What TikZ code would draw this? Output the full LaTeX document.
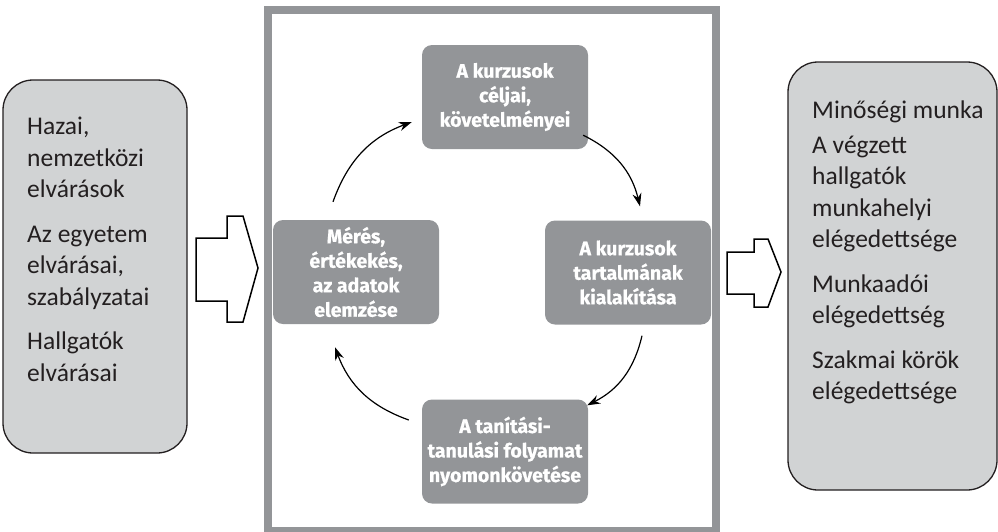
\documentclass[tikz,border=0pt]{standalone}
\usepackage{fontspec}
\setmainfont{Fira Sans}
\newfontfamily\sidefont{Carlito}
\newfontfamily\stepfont{Fira Sans}[BoldFeatures={FakeBold=0.7}]
\usetikzlibrary{arrows.meta,calc}
\definecolor{framegray}{HTML}{939598}
\definecolor{boxgray}{HTML}{D1D3D4}
\definecolor{inkblack}{HTML}{231F20}

\begin{document}
\begin{tikzpicture}[x=1pt,y=1pt,
    sidebox/.style={draw=inkblack,line width=1.3pt,fill=boxgray,rounded corners=30pt,inner sep=0pt},
    sidetext/.style={anchor=north west,align=left,inner sep=0pt,text=inkblack,font=\sidefont\fontsize{25.5}{31.5}\selectfont},
    stepbox/.style={fill=framegray,rounded corners=10pt,minimum width=166pt,minimum height=104pt,inner sep=0pt,align=center,text=white,font=\stepfont\bfseries\fontsize{19.5}{24.5}\selectfont},
    cyc/.style={line width=1.2pt,-{Stealth[length=13pt,width=9pt]}},
    blockarrow/.style={draw=black,line width=1.5pt,fill=white,line join=miter}]
          \useasboundingbox (0,0) rectangle (998,-531);
          \clip (0,0) rectangle (998,-531);
          % frame round the cycle
          \draw[framegray,line width=8pt] (267.5,-10) rectangle (715.5,-531);
          % side boxes
          \node[sidebox,minimum width=184pt,minimum height=373pt] (inbox) at (95,-266.5) {};
          \node[sidebox,minimum width=209pt,minimum height=428pt] (outbox) at (892.5,-276) {};
          \node[sidetext] (intext) at (27,-117) {Hazai,\\nemzetközi\\elvárások\\[13pt]Az egyetem\\elvárásai,\\szabályzatai\\[13pt]Hallgatók\\elvárásai};
          \node[sidetext] (outtext) at (812,-101) {Minőségi munka\\[3pt]A végzett\\hallgatók\\munkahelyi\\elégedettsége\\[13pt]Munkaadói\\elégedettség\\[13pt]Szakmai körök\\elégedettsége};
          % block arrows in and out
          \draw[blockarrow] (196,-238) -- (227,-238) -- (227,-216) -- (243,-216) -- (258,-268) -- (243,-322) -- (227,-322) -- (227,-301) -- (196,-301) -- cycle;
          \draw[blockarrow] (727,-252) -- (754,-252) -- (754,-239) -- (768,-239) -- (781,-272) -- (768,-307) -- (754,-307) -- (754,-294) -- (727,-294) -- cycle;
          % the four steps
          \node[stepbox] (celok) at (505,-97) {A kurzusok\\céljai,\\követelményei};
          \node[stepbox] (tartalom) at (628,-272.5) {A kurzusok\\tartalmának\\kialakítása};
          \node[stepbox] (tanitas) at (505,-451.5) {A tanítási-\\tanulási folyamat\\nyomonkövetése};
          \node[stepbox] (meres) at (356,-272) {Mérés,\\értékekés,\\az adatok\\elemzése};
          \draw[cyc] ($(meres.north)+(-23,18)$) to[bend left=25] ($(celok.west)+(-10,-25)$);
          \draw[cyc] ($(celok.south east)+(-5,14)$) to[bend left=25] ($(tartalom.north)+(12,14)$);
          \draw[cyc] ($(tartalom.south)+(14,-11)$) to[bend left=25] ($(tanitas.north east)+(-1,-6)$);
          \draw[cyc] ($(tanitas.west)+(-13,31.5)$) to[bend left=25] ($(meres.south)+(-21,-23)$);
        \end{tikzpicture}
\end{document}
